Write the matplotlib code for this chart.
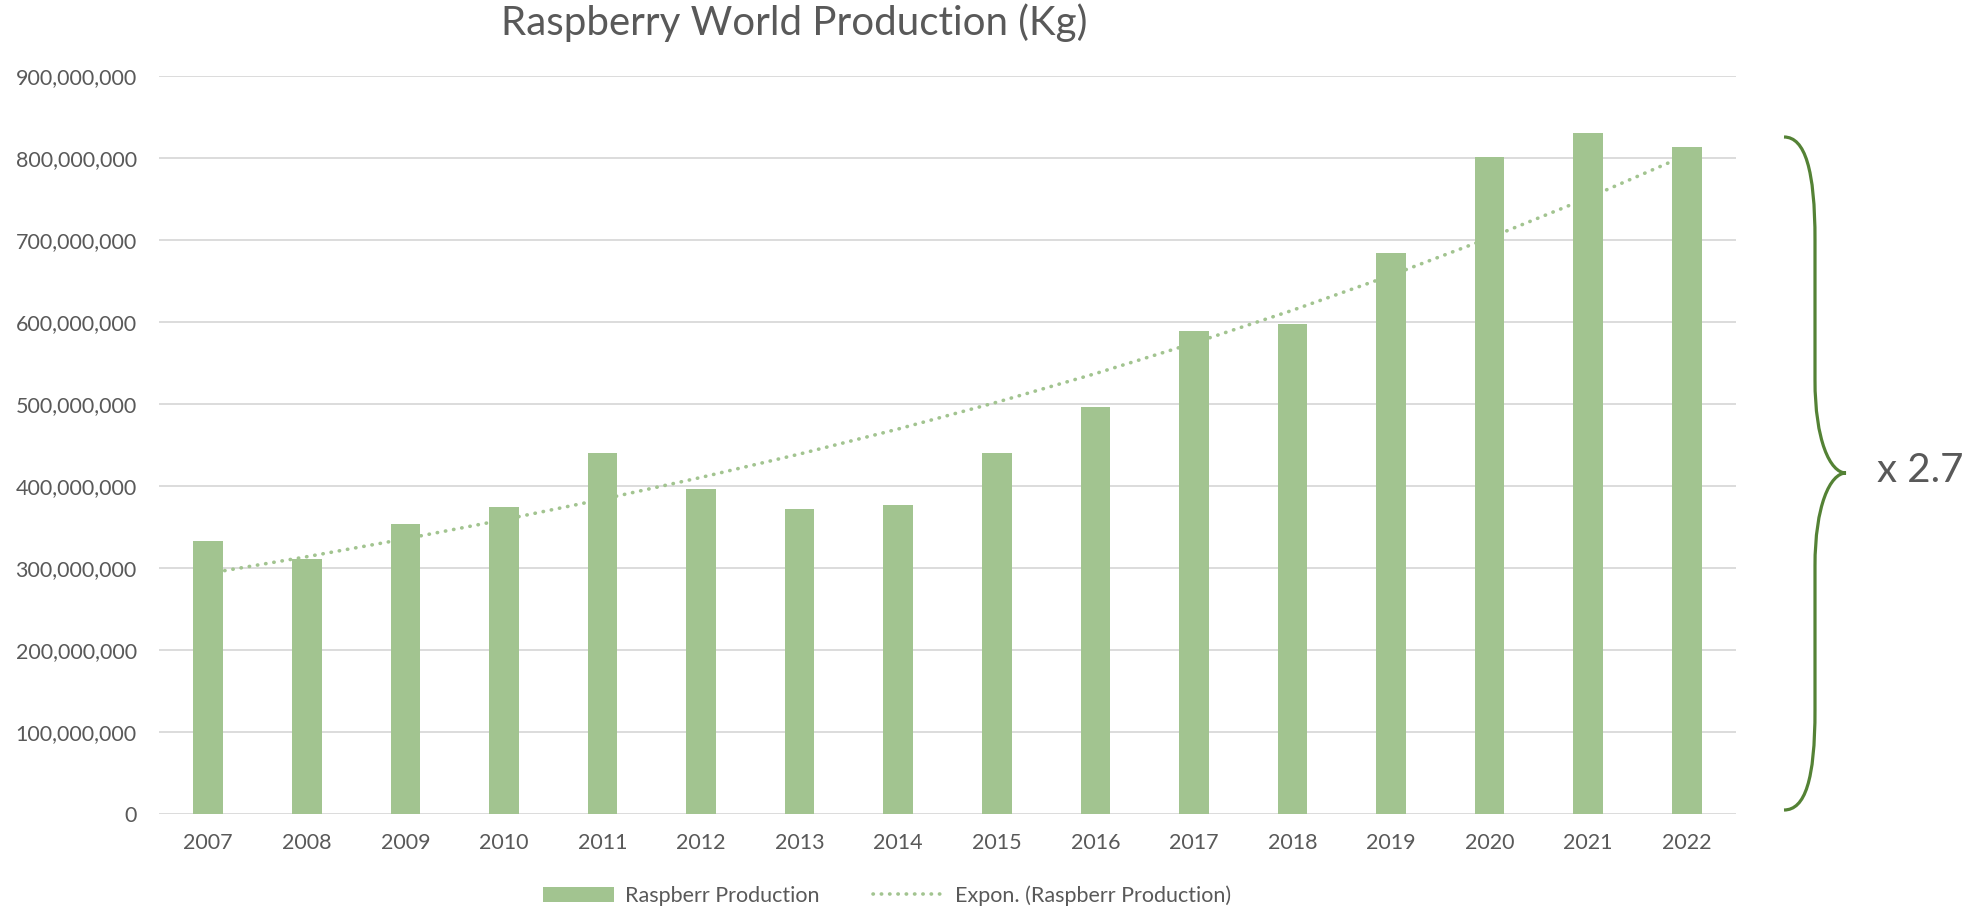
import numpy as np
import matplotlib
matplotlib.use('Agg')
import matplotlib.pyplot as plt
from matplotlib.path import Path
from matplotlib.patches import PathPatch
from matplotlib.ticker import FuncFormatter

plt.rcParams['font.family'] = ['Lato', 'DejaVu Sans']

# Datos
anios = [2007, 2008, 2009, 2010, 2011, 2012, 2013, 2014,
         2015, 2016, 2017, 2018, 2019, 2020, 2021, 2022]
produccion = [333e6, 311e6, 354e6, 374e6, 440e6, 396e6, 372e6, 376e6,
              440e6, 496e6, 589e6, 598e6, 684e6, 801e6, 830e6, 813e6]
etiqueta_ratio = 'x 2.7'

verde = '#A2C490'
verde_oscuro = '#548235'
gris = '#595959'

x = np.arange(len(anios))
y = np.array(produccion)

# Tendencia exponencial (como en Excel)
b, a = np.polyfit(x, np.log(y), 1)
tendencia = np.exp(a + b * x)

fig = plt.figure(figsize=(19.85, 9.11), dpi=100)
ax = fig.add_axes([0.0801, 0.1068, 0.7945, 0.8098])

barras = ax.bar(x, y, width=0.3, color=verde, label='Raspberr Production', zorder=2)
linea, = ax.plot(x, tendencia, color=verde, lw=2.6, linestyle=(0, (0.1, 2.2)),
                 dash_capstyle='round', label='Expon. (Raspberr Production)', zorder=3)

ax.set_xlim(-0.5, len(anios) - 0.5)
ax.set_ylim(0, 900e6)
ax.set_yticks(np.arange(0, 900e6 + 1, 100e6))
ax.yaxis.set_major_formatter(FuncFormatter(lambda v, p: f'{v:,.0f}'))
ax.set_xticks(x)
ax.set_xticklabels([str(a_) for a_ in anios])
ax.grid(axis='y', color='#D9D9D9', lw=1.3, zorder=0)
ax.set_axisbelow(True)
for s in ax.spines.values():
    s.set_visible(False)
ax.tick_params(axis='both', length=0, labelsize=15.5, colors=gris)
ax.tick_params(axis='y', pad=16)
ax.tick_params(axis='x', pad=14)

fig.text(0.40, 0.975, 'Raspberry World Production (Kg)', ha='center', va='center',
         fontsize=29, color=gris)

fig.legend([barras, linea], ['Raspberr Production', 'Expon. (Raspberr Production)'],
           loc='center', bbox_to_anchor=(0.447, 0.017), ncol=2, frameon=False,
           fontsize=15.5, labelcolor=gris, handlelength=3.3, handleheight=0.7,
           columnspacing=2.5, handletextpad=0.5)

# Llave y texto de la relación
ov = fig.add_axes([0, 0, 1, 1], facecolor='none')
ov.set_xlim(0, 1985)
ov.set_ylim(911, 0)
ov.axis('off')
verts = [(1784, 137), (1805, 137), (1815, 170), (1815, 240),
         (1815, 380),
         (1815, 440), (1830, 473), (1846, 473),
         (1830, 473), (1815, 506), (1815, 566),
         (1815, 710),
         (1815, 780), (1805, 810), (1784, 810)]
codes = [Path.MOVETO, Path.CURVE4, Path.CURVE4, Path.CURVE4,
         Path.LINETO,
         Path.CURVE4, Path.CURVE4, Path.CURVE4,
         Path.CURVE4, Path.CURVE4, Path.CURVE4,
         Path.LINETO,
         Path.CURVE4, Path.CURVE4, Path.CURVE4]
ov.add_patch(PathPatch(Path(verts, codes), fill=False, edgecolor=verde_oscuro, lw=2.3))
ov.text(1877, 470, etiqueta_ratio, ha='left', va='center', fontsize=29, color=gris)

fig.savefig('out.png', dpi=100)
